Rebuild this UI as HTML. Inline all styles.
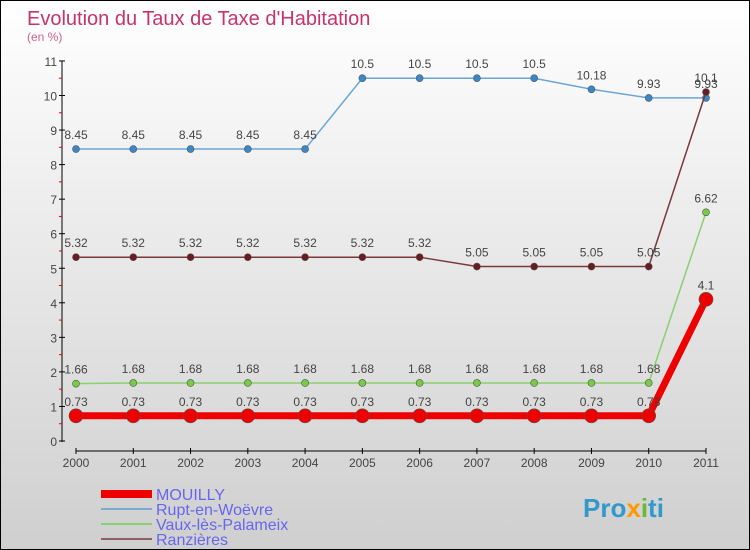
<!DOCTYPE html>
<html><head><meta charset="utf-8"><style>
body{margin:0}
#c{width:750px;height:550px;position:relative;box-sizing:border-box;border:1px solid #000;background:linear-gradient(#ffffff,#cfcfcf);font-family:"Liberation Sans",sans-serif;overflow:hidden}
</style></head><body>
<div id="c">
<svg id="s" width="748" height="548" style="position:absolute;left:0;top:0">
<text x="26" y="24" font-size="20" fill="#c8336a">Evolution du Taux de Taxe d'Habitation</text>
<text x="26" y="40" font-size="12" fill="#d06090">(en %)</text>
<g id="ax"></g><g id="ser"></g>
<g>
<rect x="100" y="489" width="51" height="8" fill="#ee0000"/>
<text x="155" y="499" font-size="16" fill="#6666ee">MOUILLY</text>
<rect x="100" y="507" width="51" height="2" fill="#7aaad0"/>
<text x="155" y="514" font-size="16" fill="#6666ee">Rupt-en-Woëvre</text>
<rect x="100" y="522" width="51" height="2" fill="#88d070"/>
<text x="155" y="529" font-size="16" fill="#6666ee">Vaux-lès-Palameix</text>
<rect x="100" y="537" width="51" height="2" fill="#906060"/>
<text x="155" y="544" font-size="16" fill="#6666ee">Ranzières</text>
</g>
<text x="582" y="516" font-size="26" font-weight="bold" fill="#3399cc">Pro<tspan fill="#ff9900">x</tspan><tspan fill="#66bb33">i</tspan>ti</text>
</svg>
</div>
<script>
const years=["2000","2001","2002","2003","2004","2005","2006","2007","2008","2009","2010","2011"];
const mouilly=[0.73,0.73,0.73,0.73,0.73,0.73,0.73,0.73,0.73,0.73,0.73,4.1];
const rupt=[8.45,8.45,8.45,8.45,8.45,10.5,10.5,10.5,10.5,10.18,9.93,9.93];
const vaux=[1.66,1.68,1.68,1.68,1.68,1.68,1.68,1.68,1.68,1.68,1.68,6.62];
const ranz=[5.32,5.32,5.32,5.32,5.32,5.32,5.32,5.05,5.05,5.05,5.05,10.1];
const yTicks=[0,1,2,3,4,5,6,7,8,9,10,11];
const NS="http://www.w3.org/2000/svg";
const X=i=>75+i*(630/11), Y=v=>440-v*34.55;
function mk(t,a,p){const e=document.createElementNS(NS,t);for(const k in a)e.setAttribute(k,a[k]);p.appendChild(e);return e;}
const ax=document.getElementById('ax'),ser=document.getElementById('ser');
let l=mk('line',{x1:61,y1:60,x2:61,y2:441,stroke:'#000'},ax);


yTicks.forEach(v=>{
 let t=mk('line',{x1:58,x2:64,y1:Y(v),y2:Y(v),stroke:'#000'},ax);
 
 
 if(v<11){let m=mk('line',{x1:58,x2:61,y1:Y(v+0.5),y2:Y(v+0.5),stroke:'#e00'},ax);
 
 }
 let tx=mk('text',{x:56,y:Y(v)+5,'text-anchor':'end','font-size':12,fill:'#444'},ax);tx.textContent=v;
 
 
});
l=mk('line',{x1:75,y1:450,x2:705,y2:450,stroke:'#000'},ax);


years.forEach((y,i)=>{
 let t=mk('line',{x1:X(i),x2:X(i),y1:447,y2:453,stroke:'#000'},ax);
 
 
 let tx=mk('text',{x:X(i),y:466,'text-anchor':'middle','font-size':12,fill:'#444'},ax);tx.textContent=y;
 
 
});
function series(d,name,col,w,r,dot){
 const g=mk('g',{},ser);
 
 
 let p=mk('polyline',{points:d.map((v,i)=>X(i)+','+Y(v)).join(' '),fill:'none',stroke:col,'stroke-width':w},g);
 
 
 d.forEach((v,i)=>{
  let c=mk('circle',{cx:X(i),cy:Y(v),r:r,fill:dot,stroke:'#555','stroke-width':0.6},g);
  
  
  let t=mk('text',{x:X(i),y:Y(v)-10,'text-anchor':'middle','font-size':12,fill:'#444'},g);t.textContent=v;
  
  
 });
}
series(rupt,'rupt','#6aa6d8',1.5,3.5,'#3a88c8');
series(ranz,'ranzieres','#7a3838',1.5,3.5,'#6a1a22');
series(vaux,'vaux','#88d070',1.5,3.5,'#77cc44');
series(mouilly,'mouilly','#ee0000',7,7,'#ee0000');
</script>
</body></html>
